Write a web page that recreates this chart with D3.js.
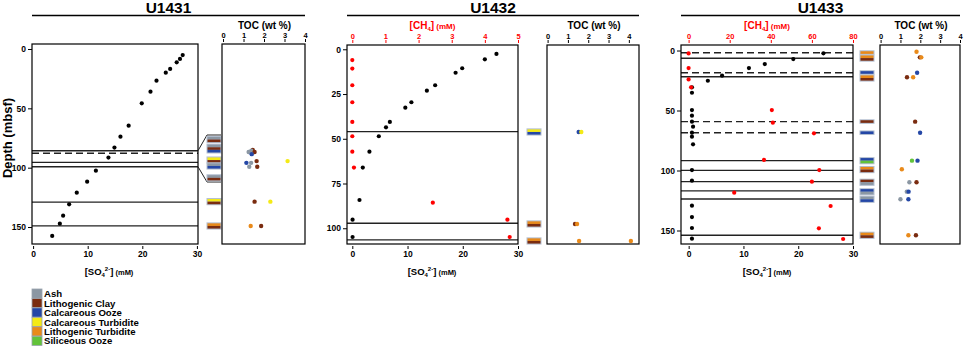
<!DOCTYPE html>
<html>
<head>
<meta charset="utf-8">
<script src="https://cdn.jsdelivr.net/npm/d3@7"></script>
<style>
  body { margin: 0; background: #fff; }
  svg text { font-family: "Liberation Sans", Arial, sans-serif; font-weight: bold; }
</style>
</head>
<body>
<div class="chart"></div>
<script>
// ---------- data (depth in mbsf) ----------
// lithology codes: A ash, C lithogenic clay, O calcareous ooze, T calcareous turbidite, L lithogenic turbidite, S siliceous ooze
const lithCodes = ['A', 'C', 'O', 'T', 'L', 'S'];
const lithNames = ['Ash', 'Lithogenic Clay', 'Calcareous Ooze', 'Calcareous Turbidite', 'Lithogenic Turbidite', 'Siliceous Ooze'];

// U1431
const u1431So4Depth = [5.1, 8.4, 11.2, 16.8, 20.0, 26.7, 36.0, 45.8, 64.6, 73.9, 83.1, 91.5, 102.5, 111.8, 121.1, 130.9, 140.4, 147.2, 157.5];
const u1431So4 = [27.4, 26.9, 26.3, 25.1, 24.3, 22.6, 21.5, 19.9, 17.5, 16.0, 14.9, 13.8, 11.5, 9.9, 8.0, 6.6, 5.5, 4.9, 3.5];
const u1431Solid = [85.7, 95.5, 99.2, 129, 149];
const u1431Dashed = [87.9];
const u1431BarDepth = [87.0, 89.6, 92.9, 94.6, 98.0, 128.6, 149.1];
const u1431BarLith = ['AC', 'ACO', 'TC', 'AO', 'AC', 'TC', 'LC'];
const u1431TocDepth = [90.0, 90.2, 90.6, 90.6, 91.2, 93.2, 93.2, 93.7, 93.7, 94.8, 94.8, 128.6, 128.6, 149.1, 149.1];
const u1431Toc = [1.45, 1.38, 1.25, 1.54, 1.40, 3.15, 1.64, 1.14, 1.37, 1.28, 1.67, 1.54, 2.31, 1.35, 1.86];
const u1431TocLith = ['C', 'A', 'A', 'C', 'O', 'T', 'C', 'O', 'A', 'A', 'C', 'C', 'T', 'L', 'C'];

// U1432
const u1432So4Depth = [2.6, 5.6, 10.6, 13.1, 20.1, 23.1, 29.6, 32.6, 40.6, 43.6, 48.6, 57.2, 66.1, 84.2, 95.2, 104.9];
const u1432So4 = [26.1, 24.0, 19.9, 18.7, 15.0, 13.5, 10.7, 9.6, 6.8, 6.1, 4.8, 3.1, 1.9, 1.3, 0.05, 0.05];
const u1432Ch4Depth = [6.0, 10.8, 20.1, 29.6, 40.6, 48.6, 57.2, 66.1, 85.7, 95.2, 104.9];
const u1432Ch4 = [0, 0, 0, 0, 0, 0, 0, 0.05, 2.43, 4.68, 4.75];
const u1432Solid = [46.0, 97.2, 106.5];
const u1432Dashed = [];
const u1432BarDepth = [46.2, 97.6, 107.1];
const u1432BarLith = ['TO', 'LC', 'LC'];
const u1432TocDepth = [46.2, 46.2, 97.6, 97.6, 107.1, 107.1];
const u1432Toc = [1.53, 1.66, 1.35, 1.45, 1.55, 4.1];
const u1432TocLith = ['O', 'T', 'C', 'L', 'L', 'L'];

// U1433
const u1433So4Depth = [2.3, 7.1, 11.3, 14.6, 21.0, 25.2, 30.7, 35.2, 49.6, 54.3, 59.3, 63.5, 68.5, 71.8, 78.2, 99.6, 108.5, 129.3, 138.8, 147.9, 156.8];
const u1433So4 = [24.6, 19.1, 13.9, 11.0, 6.1, 3.5, 0.6, 0.6, 0.6, 0.6, 0.6, 0.8, 0.6, 0.6, 0.8, 0.6, 0.6, 0.6, 0.6, 0.6, 0.6];
const u1433Ch4Depth = [2.4, 14.6, 24.1, 30.7, 49.6, 60.1, 69.0, 91.2, 99.6, 109.3, 118.5, 129.6, 148.2, 157.1];
const u1433Ch4 = [0, 0, 0, 1.2, 40.5, 41.0, 61.0, 36.7, 63.6, 60.0, 22.2, 69.1, 63.4, 75.2];
const u1433Solid = [6.5, 21.8, 91.8, 99.9, 109.3, 117.0, 123.7, 154.0];
const u1433Dashed = [1.8, 18.5, 59.3, 68.5];
const u1433BarDepth = [1.7, 6.3, 18.3, 22.9, 59.2, 68.5, 91.8, 99.2, 109.8, 117.7, 124.0, 154.0];
const u1433BarLith = ['L', 'LC', 'O', 'LC', 'C', 'O', 'OS', 'LC', 'CA', 'OA', 'AO', 'LC'];
const u1433TocDepth = [1.0, 5.7, 5.7, 18.5, 22.3, 22.3, 59.3, 68.5, 91.8, 91.8, 99.0, 109.8, 109.8, 117.6, 117.6, 124.0, 124.0, 154.0, 154.0];
const u1433Toc = [1.81, 1.98, 2.05, 1.84, 1.33, 1.64, 1.74, 1.99, 1.58, 1.86, 1.07, 1.45, 1.81, 1.32, 1.41, 1.0, 1.4, 1.4, 1.78];
const u1433TocLith = ['L', 'C', 'L', 'O', 'C', 'L', 'C', 'O', 'S', 'O', 'L', 'A', 'C', 'A', 'O', 'A', 'O', 'L', 'C'];

// ---------- layout ----------
const litColor = { A: '#8b97a3', C: '#7a2c10', O: '#2447a6', T: '#f4ea16', L: '#e98a1a', S: '#62c33a' };

const sites = [
  { name: 'U1431', left: 32, right: 198, top: 44, bottom: 244,
    depthDomain: [-4.2, 164.3], depthTicks: [0, 50, 100, 150],
    so4Domain: [-0.2, 30.2], so4LabelX: 109, ch4Domain: null,
    barX: 207, tocLeft: 222, tocRight: 305, tocDomain: [-0.05, 4],
    so4Depth: u1431So4Depth, so4: u1431So4, ch4Depth: [], ch4: [],
    solid: u1431Solid, dashed: u1431Dashed,
    barDepth: u1431BarDepth, barLith: u1431BarLith,
    tocDepth: u1431TocDepth, toc: u1431Toc, tocLith: u1431TocLith,
    zoom: { depth: [85.7, 99.2], pix: [135, 182] } },
  { name: 'U1432', left: 347, right: 518, top: 45, bottom: 244,
    depthDomain: [-2.4, 108.8], depthTicks: [0, 25, 50, 75, 100],
    so4Domain: [-0.96, 30], so4LabelX: 432, ch4Domain: [-0.16, 5], ch4Ticks: [0, 1, 2, 3, 4, 5],
    barX: 527, tocLeft: 547, tocRight: 639, tocDomain: [-0.03, 4.5],
    so4Depth: u1432So4Depth, so4: u1432So4, ch4Depth: u1432Ch4Depth, ch4: u1432Ch4,
    solid: u1432Solid, dashed: u1432Dashed,
    barDepth: u1432BarDepth, barLith: u1432BarLith,
    tocDepth: u1432TocDepth, toc: u1432Toc, tocLith: u1432TocLith },
  { name: 'U1433', left: 681, right: 853, top: 45, bottom: 244,
    depthDomain: [-4.6, 161.25], depthTicks: [0, 50, 100, 150],
    so4Domain: [-1.4, 30], so4LabelX: 767, ch4Domain: [-3.7, 80], ch4Ticks: [0, 20, 40, 60, 80],
    barX: 860, tocLeft: 880, tocRight: 960, tocDomain: [-0.03, 4],
    so4Depth: u1433So4Depth, so4: u1433So4, ch4Depth: u1433Ch4Depth, ch4: u1433Ch4,
    solid: u1433Solid, dashed: u1433Dashed,
    barDepth: u1433BarDepth, barLith: u1433BarLith,
    tocDepth: u1433TocDepth, toc: u1433Toc, tocLith: u1433TocLith }
];

const svg = d3.select('.chart').append('svg')
  .attr('width', 964)
  .attr('height', 346);

const intFmt = d3.format('d');

function styleAxis(g, size, color) {
  g.attr('font-family', null).attr('font-size', size);
  g.select('.domain').remove();
  g.selectAll('line').attr('stroke', color);
  g.selectAll('text').attr('fill', color);
}

function drawSite(s) {
  const g = svg.append('g').attr('class', 'site');
  const y = d3.scaleLinear().domain(s.depthDomain).range([s.top, s.bottom]);
  const xSo4 = d3.scaleLinear().domain(s.so4Domain).range([s.left, s.right]);
  const xToc = d3.scaleLinear().domain(s.tocDomain).range([s.tocLeft, s.tocRight]);

  // depth for the lithology column (U1431 has an expanded interval)
  let yLith = y;
  if (s.zoom) {
    const yz = d3.scaleLinear().domain(s.zoom.depth).range(s.zoom.pix);
    yLith = d => (d >= s.zoom.depth[0] && d <= s.zoom.depth[1]) ? yz(d) : y(d);
  }

  // title + underline
  g.append('line')
    .attr('x1', s.left).attr('x2', s.tocRight)
    .attr('y1', 15.5).attr('y2', 15.5)
    .attr('stroke', '#000').attr('stroke-width', 1.5);
  g.append('text')
    .attr('x', (s.left + s.tocRight) / 2).attr('y', 13)
    .attr('text-anchor', 'middle').attr('font-size', 15.5)
    .text(s.name);

  // boundary lines
  g.selectAll('line.solid').data(s.solid).enter().append('line')
    .attr('class', 'solid')
    .attr('x1', s.left).attr('x2', s.right)
    .attr('y1', d => y(d)).attr('y2', d => y(d))
    .attr('stroke', '#222').attr('stroke-width', 1.4);
  g.selectAll('line.dashed').data(s.dashed).enter().append('line')
    .attr('class', 'dashed')
    .attr('x1', s.left).attr('x2', s.right)
    .attr('y1', d => y(d)).attr('y2', d => y(d))
    .attr('stroke', '#222').attr('stroke-width', 1.4)
    .attr('stroke-dasharray', '7,4');

  // main box
  g.append('rect')
    .attr('x', s.left).attr('y', s.top)
    .attr('width', s.right - s.left).attr('height', s.bottom - s.top)
    .attr('fill', 'none').attr('stroke', '#000').attr('stroke-width', 1.2);

  // depth axis
  const yAxis = g.append('g')
    .attr('transform', `translate(${s.left},0)`)
    .call(d3.axisLeft(y).tickValues(s.depthTicks).tickFormat(intFmt).tickSize(4).tickPadding(2));
  styleAxis(yAxis, 8.5, '#000');

  // sulfate axis (bottom)
  const xAxis = g.append('g')
    .attr('transform', `translate(0,${s.bottom + 2})`)
    .call(d3.axisBottom(xSo4).tickValues([0, 10, 20, 30]).tickFormat(intFmt).tickSize(3).tickPadding(2));
  styleAxis(xAxis, 8.5, '#000');

  const so4Label = g.append('text')
    .attr('x', s.so4LabelX).attr('y', 275)
    .attr('text-anchor', 'middle').attr('font-size', 9.5);
  so4Label.append('tspan').text('[SO');
  so4Label.append('tspan').attr('font-size', 6).attr('dy', 2).text('4');
  so4Label.append('tspan').attr('font-size', 6).attr('dy', -6).text('2-');
  so4Label.append('tspan').attr('dy', 4).text(']');
  so4Label.append('tspan').attr('font-size', 7.5).text(' (mM)');

  // methane axis (top, red)
  let xCh4 = null;
  if (s.ch4Domain) {
    xCh4 = d3.scaleLinear().domain(s.ch4Domain).range([s.left, s.right]);
    const cAxis = g.append('g')
      .attr('transform', `translate(0,${s.top - 2})`)
      .call(d3.axisTop(xCh4).tickValues(s.ch4Ticks).tickFormat(intFmt).tickSize(3).tickPadding(1));
    styleAxis(cAxis, 7.5, '#ff0000');
    const ch4Label = g.append('text')
      .attr('x', (s.left + s.right) / 2).attr('y', 29)
      .attr('text-anchor', 'middle').attr('font-size', 10).attr('fill', '#ff0000');
    ch4Label.append('tspan').text('[CH');
    ch4Label.append('tspan').attr('font-size', 6).attr('dy', 2).text('4');
    ch4Label.append('tspan').attr('dy', -2).text(']');
    ch4Label.append('tspan').attr('font-size', 8).text(' (mM)');
  }

  // sulfate points
  g.selectAll('circle.so4').data(s.so4).enter().append('circle')
    .attr('class', 'so4')
    .attr('cx', d => xSo4(d))
    .attr('cy', (d, i) => y(s.so4Depth[i]))
    .attr('r', 2.1).attr('fill', '#000');

  // methane points
  if (xCh4) {
    g.selectAll('circle.ch4').data(s.ch4).enter().append('circle')
      .attr('class', 'ch4')
      .attr('cx', d => xCh4(d))
      .attr('cy', (d, i) => y(s.ch4Depth[i]))
      .attr('r', 2.1).attr('fill', '#ff0000');
  }

  // expanded-interval bracket (U1431)
  if (s.zoom) {
    const bx = s.barX;
    g.append('path')
      .attr('d', `M${s.right},${y(s.zoom.depth[0])}L${bx},${s.zoom.pix[0]}L${bx + 14},${s.zoom.pix[0]}` +
                 `M${s.right},${y(s.zoom.depth[1])}L${bx},${s.zoom.pix[1]}L${bx + 14},${s.zoom.pix[1]}`)
      .attr('fill', 'none').attr('stroke', '#222').attr('stroke-width', 1);
  }

  // lithology bars
  const sh = 2.6;
  const bars = g.selectAll('g.bar').data(s.barDepth).enter().append('g')
    .attr('class', 'bar')
    .attr('transform', (d, i) => {
      const h = s.barLith[i].length * sh;
      return `translate(${s.barX},${yLith(d) - h / 2})`;
    });
  bars.append('rect')
    .attr('x', -0.5).attr('y', -1)
    .attr('width', 15)
    .attr('height', (d, i) => s.barLith[i].length * sh + 2)
    .attr('fill', '#b4bfd0');
  bars.selectAll('rect.stripe')
    .data((d, i) => s.barLith[i].split(''))
    .enter().append('rect')
    .attr('class', 'stripe')
    .attr('x', 0.5).attr('y', (c, j) => j * sh)
    .attr('width', 13).attr('height', sh)
    .attr('fill', c => litColor[c]);

  // TOC panel
  g.append('rect')
    .attr('x', s.tocLeft).attr('y', s.top)
    .attr('width', s.tocRight - s.tocLeft).attr('height', s.bottom - s.top)
    .attr('fill', 'none').attr('stroke', '#000').attr('stroke-width', 1.2);
  const tAxis = g.append('g')
    .attr('transform', `translate(0,${s.top - 2})`)
    .call(d3.axisTop(xToc).tickValues([0, 1, 2, 3, 4]).tickFormat(intFmt).tickSize(3).tickPadding(1));
  styleAxis(tAxis, 7.5, '#000');
  g.append('text')
    .attr('x', (s.tocLeft + s.tocRight) / 2 + 1).attr('y', 29)
    .attr('text-anchor', 'middle').attr('font-size', 10)
    .text('TOC (wt %)');

  g.selectAll('circle.toc').data(s.toc).enter().append('circle')
    .attr('class', 'toc')
    .attr('cx', d => xToc(d))
    .attr('cy', (d, i) => yLith(s.tocDepth[i]))
    .attr('r', 2.2)
    .attr('fill', (d, i) => litColor[s.tocLith[i]]);
}

sites.forEach(drawSite);

// depth label
svg.append('text')
  .attr('transform', 'translate(12,138) rotate(-90)')
  .attr('text-anchor', 'middle').attr('font-size', 13)
  .text('Depth (mbsf)');

// legend
const legend = svg.append('g').attr('transform', 'translate(32,289)');
const rows = legend.selectAll('g').data(lithCodes).enter().append('g')
  .attr('transform', (d, i) => `translate(0,${i * 9.45})`);
rows.append('rect')
  .attr('width', 10).attr('height', 9.2)
  .attr('fill', d => litColor[d]).attr('stroke', '#9aa3ad').attr('stroke-width', 0.8);
rows.append('text')
  .attr('x', 12).attr('y', 8.2)
  .attr('font-size', 9.6)
  .text((d, i) => lithNames[i]);
</script>
</body>
</html>
